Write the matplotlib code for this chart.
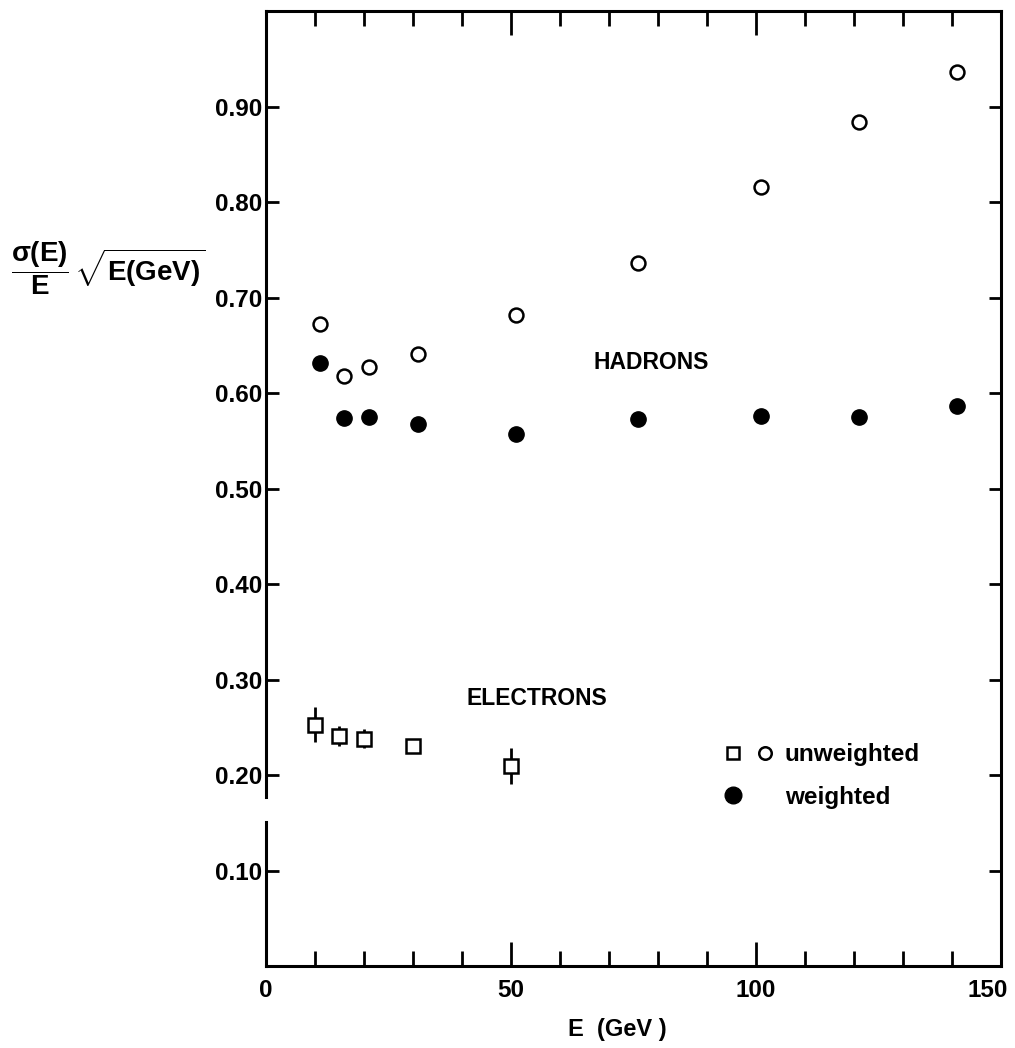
import matplotlib
matplotlib.use("Agg")
import matplotlib.pyplot as plt
from matplotlib.lines import Line2D
from matplotlib.legend_handler import HandlerTuple
from matplotlib.ticker import MultipleLocator, FixedLocator
from matplotlib.transforms import ScaledTranslation

plt.rcParams["font.family"] = ["Liberation Sans", "DejaVu Sans"]
plt.rcParams["font.weight"] = "bold"
plt.rcParams["axes.labelweight"] = "bold"
plt.rcParams["mathtext.fontset"] = "custom"
plt.rcParams["mathtext.rm"] = "Liberation Sans:bold"
plt.rcParams["mathtext.it"] = "Liberation Sans:bold"
plt.rcParams["mathtext.bf"] = "Liberation Sans:bold"

# hadrons, unweighted (open circles)
had_e = [11, 16, 21, 31, 51, 76, 101, 121, 141]
had_unw = [0.672, 0.618, 0.627, 0.641, 0.682, 0.736, 0.816, 0.884, 0.936]

# hadrons, weighted (filled circles)
had_w = [0.632, 0.574, 0.575, 0.568, 0.557, 0.573, 0.576, 0.575, 0.587]

# electrons, unweighted (open squares with errors)
ele_e = [10, 15, 20, 30, 50]
ele_res = [0.253, 0.241, 0.238, 0.231, 0.210]
ele_err = [0.018, 0.010, 0.010, 0.0, 0.019]

x_ticks = [0, 50, 100, 150]
y_ticks = [0.1, 0.2, 0.3, 0.4, 0.5, 0.6, 0.7, 0.8, 0.9]
y_labels = ["0.10", "0.20", "0.30", "0.40", "0.50", "0.60", "0.70", "0.80", "0.90"]

fig = plt.figure(figsize=(10.15, 10.48), dpi=100)
ax = fig.add_axes([0.262, 0.078, 0.724, 0.9115])

lw = 2.2
ax.plot(had_e, had_unw, "o", ms=10, mfc="white", mec="black", mew=1.8, ls="none")
ax.plot(had_e, had_w, "o", ms=11, mfc="black", mec="black", ls="none")
ax.errorbar(ele_e, ele_res, yerr=ele_err, fmt="s", ms=9.5, mfc="white",
            mec="black", mew=1.8, ecolor="black", elinewidth=2, capsize=0)

ax.text(78.6, 0.632, "HADRONS", fontsize=16.5, ha="center", va="center")
ax.text(55.3, 0.280, "ELECTRONS", fontsize=16.5, ha="center", va="center")

# legend: open square + open circle for unweighted, filled circle for weighted
sq = Line2D([], [], marker="s", ms=9, mfc="white", mec="black", mew=1.8, ls="none")
oc = Line2D([], [], marker="o", ms=9, mfc="white", mec="black", mew=1.8, ls="none")
fc = Line2D([], [], marker="o", ms=12, mfc="black", mec="black", ls="none")
blank = Line2D([], [], ls="none")
ax.legend([(sq, oc), (fc, blank)], ["unweighted", "weighted"],
          handler_map={tuple: HandlerTuple(ndivide=None, pad=0)},
          loc="upper left", bbox_to_anchor=(0.614, 0.2335), frameon=False,
          prop={"size": 17.5, "weight": "bold"}, handlelength=2.63,
          handletextpad=0.16, borderpad=0, borderaxespad=0, labelspacing=0.8)

ax.set_xlim(0, 150)
ax.set_ylim(0, 1.0)

ax.xaxis.set_major_locator(FixedLocator(x_ticks))
ax.xaxis.set_minor_locator(MultipleLocator(10))
ax.yaxis.set_major_locator(FixedLocator(y_ticks))
ax.set_yticklabels(y_labels)
ax.yaxis.set_minor_locator(FixedLocator([]))

ax.tick_params(axis="x", which="major", direction="in", length=17, width=2,
               top=True, bottom=True, labelsize=17.5, pad=9)
ax.tick_params(axis="x", which="minor", direction="in", length=10.5, width=2,
               top=True, bottom=True)
ax.tick_params(axis="y", which="major", direction="in", length=9, width=2,
               left=True, right=True, labelsize=17.5, pad=3)

# the "150" label sits a little left of its tick in the original
last = ax.xaxis.get_major_ticks()[3].label1
last.set_transform(last.get_transform() + ScaledTranslation(-0.13, 0, fig.dpi_scale_trans))

for side in ["top", "right", "bottom"]:
    ax.spines[side].set_linewidth(lw)
# left axis is broken between ~0.15 and ~0.18
ax.spines["left"].set_visible(False)
ax.axvline(0, ymin=0, ymax=0.151, color="black", lw=lw, clip_on=False)
ax.axvline(0, ymin=0.177, ymax=1.0, color="black", lw=lw, clip_on=False)

ax.set_xlabel("E  (GeV )", fontsize=17, labelpad=12, x=0.4776)
fig.text(0.011, 0.744, r"$\dfrac{\sigma(E)}{E}\,\sqrt{E(GeV)}$",
         fontsize=20, ha="left", va="center")

fig.savefig("out.png", dpi=100)
